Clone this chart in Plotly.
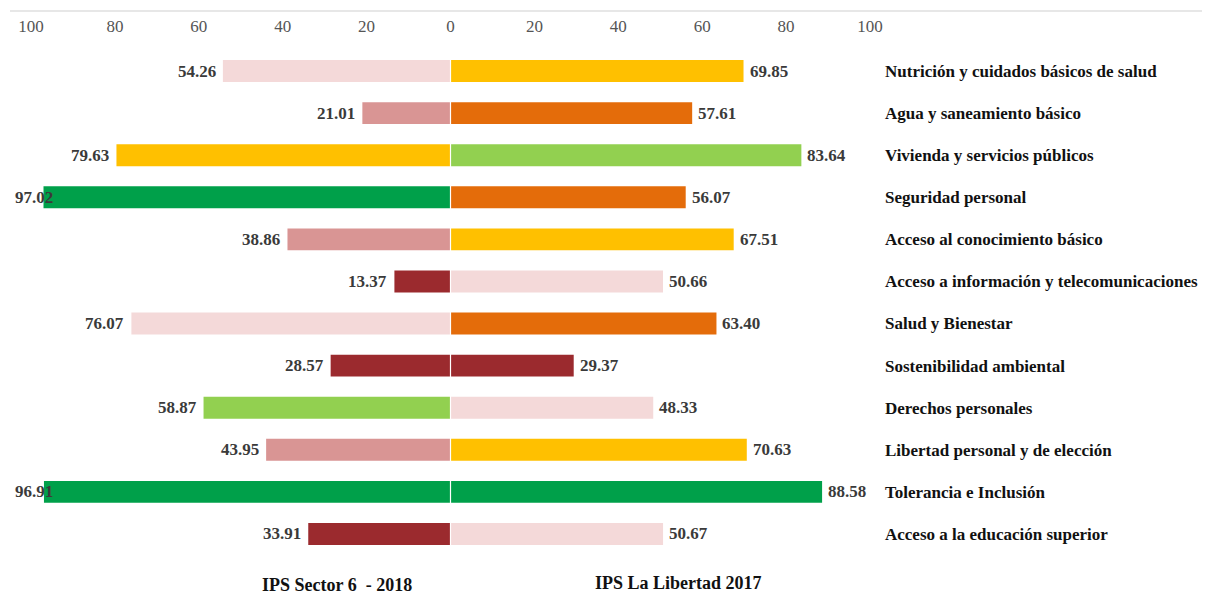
import plotly.graph_objects as go

# datos: IPS por componente
componentes = [
    "Nutrición y cuidados básicos de salud",
    "Agua y saneamiento básico",
    "Vivienda y servicios públicos",
    "Seguridad personal",
    "Acceso al conocimiento básico",
    "Acceso a información y telecomunicaciones",
    "Salud y Bienestar",
    "Sostenibilidad ambiental",
    "Derechos personales",
    "Libertad personal y de elección",
    "Tolerancia e Inclusión",
    "Acceso a la educación superior",
]
sector6_2018 = [54.26, 21.01, 79.63, 97.02, 38.86, 13.37, 76.07, 28.57, 58.87, 43.95, 96.91, 33.91]
libertad_2017 = [69.85, 57.61, 83.64, 56.07, 67.51, 50.66, 63.40, 29.37, 48.33, 70.63, 88.58, 50.67]

# nivel de cada barra (como se colorea en el original)
nivel_sector6 = ["bajo", "muy_bajo", "medio_alto", "muy_alto", "muy_bajo", "extremo",
                 "bajo", "extremo", "alto", "muy_bajo", "muy_alto", "extremo"]
nivel_libertad = ["medio_alto", "medio_bajo", "alto", "medio_bajo", "medio_alto", "bajo",
                  "medio_bajo", "extremo", "bajo", "medio_alto", "muy_alto", "bajo"]

colores = {
    "muy_alto": "#00a04a",
    "alto": "#92d050",
    "medio_alto": "#ffc000",
    "medio_bajo": "#e46c0a",
    "bajo": "#f4d9d9",
    "muy_bajo": "#d99594",
    "extremo": "#9b2a2e",
}

W, H = 1210, 608
OFF = 8  # margen del body de la pagina


def px(x):
    return (x - OFF) / W


def py(y):
    return 1 - (y - OFF) / H


serif = "Liberation Serif"
ypos = list(range(len(componentes)))

fig = go.Figure()
fig.add_trace(go.Bar(
    y=ypos, x=[-v for v in sector6_2018], orientation="h",
    marker=dict(color=[colores[n] for n in nivel_sector6], line=dict(width=0)),
    width=0.52, showlegend=False, hoverinfo="skip",
))
fig.add_trace(go.Bar(
    y=ypos, x=libertad_2017, orientation="h",
    marker=dict(color=[colores[n] for n in nivel_libertad], line=dict(width=0)),
    width=0.52, showlegend=False, hoverinfo="skip",
))

lab_font = dict(family=serif, size=17, color="#3a3a3a")
for i, v in enumerate(sector6_2018):
    if v > 90:
        # no cabe fuera de la barra: se pega al borde izquierdo
        fig.add_annotation(x=px(13), xref="paper", y=i, yref="y", text="<b>%.2f</b>" % v,
                           xanchor="left", showarrow=False, font=lab_font)
    else:
        fig.add_annotation(x=-v, y=i, text="<b>%.2f</b>" % v, xanchor="right", xshift=-5,
                           showarrow=False, font=lab_font)
for i, v in enumerate(libertad_2017):
    fig.add_annotation(x=v, y=i, text="<b>%.2f</b>" % v, xanchor="left", xshift=4,
                       showarrow=False, font=lab_font)

# titulos de las series
tit_font = dict(family=serif, size=18, color="#111")
fig.add_annotation(x=px(337), y=py(585), xref="paper", yref="paper", showarrow=False,
                   xanchor="center", yanchor="middle",
                   text="<b>IPS Sector 6  - 2018</b>", font=tit_font)
fig.add_annotation(x=px(678), y=py(583), xref="paper", yref="paper", showarrow=False,
                   xanchor="center", yanchor="middle",
                   text="<b>IPS La Libertad 2017</b>", font=tit_font)

# linea superior y separacion central
fig.add_shape(type="line", xref="paper", yref="paper", x0=px(10), x1=1, y0=py(11), y1=py(11),
              line=dict(color="#cfcfcf", width=1))
fig.add_vline(x=0, line=dict(color="white", width=1.2), layer="above")

ticks = [-100, -80, -60, -40, -20, 0, 20, 40, 60, 80, 100]
fig.update_layout(
    width=W, height=H, margin=dict(l=0, r=0, t=0, b=0, autoexpand=False),
    plot_bgcolor="white", paper_bgcolor="white",
    barmode="overlay",
    font=dict(family=serif),
    xaxis=dict(range=[-100, 100], domain=[px(31), px(870)], side="top",
               tickvals=ticks, ticktext=[str(abs(t)) for t in ticks],
               tickfont=dict(family=serif, size=17, color="#555"),
               showgrid=False, zeroline=False, showline=False, ticks="",
               ticklabelstandoff=14, fixedrange=True),
    yaxis=dict(range=[11.5, -0.5], domain=[py(555), py(50)], side="right",
               tickvals=ypos, ticktext=["<b>%s</b>" % c for c in componentes],
               tickfont=dict(family=serif, size=17, color="#111"),
               showgrid=False, zeroline=False, showline=False, ticks="",
               ticklabelstandoff=14, fixedrange=True),
)

fig.write_html("out.html")
